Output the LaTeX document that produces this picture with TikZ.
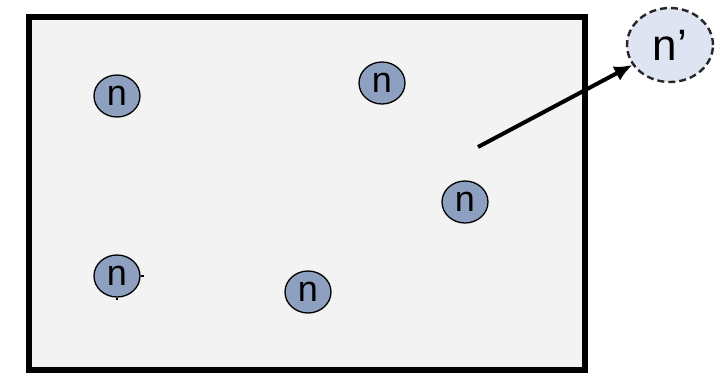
\documentclass[tikz,border=0pt]{standalone}
\usepackage{fontspec}
\setmainfont{Liberation Sans}
\usetikzlibrary{arrows.meta,shapes.geometric}
\definecolor{boxfill}{RGB}{243,243,243}
\definecolor{nfill}{RGB}{142,160,192}
\definecolor{npfill}{RGB}{222,228,241}
\tikzset{
  nnode/.style={ellipse,draw=black,line width=1.3pt,fill=nfill,minimum width=46pt,minimum height=42pt,inner sep=0pt,font=\fontsize{36}{36}\selectfont},
  npnode/.style={ellipse,draw=black!85,dash pattern=on 7pt off 4pt,line width=2.4pt,fill=npfill,minimum width=86pt,minimum height=74pt,inner sep=0pt,font=\fontsize{44}{44}\selectfont},
  movearrow/.style={line width=4pt,-{Latex[length=18pt,width=16pt]}}
}
\begin{document}
\begin{tikzpicture}[x=1pt,y=-1pt]
\useasboundingbox (0,0) rectangle (724,373);
\node[draw=black,line width=5.5pt,fill=boxfill,minimum width=556pt,minimum height=353pt,inner sep=0pt] (box) at (307,193.5) {};
\node[nnode] (n1) at (117,96) {n};
\node[nnode] (n2) at (382,83) {n};
\node[nnode] (n3) at (465,202) {n};
\node[nnode] (n4) at (117,276) {n};
\node[nnode] (n5) at (308,292) {n};
\draw[line width=2pt] (n4.east) -- ++(3,0);
\draw[line width=2pt] (n4.south) -- ++(0,2);
\node[npnode] (np) at (670,45) {n’};
\coordinate (start) at (478,147);
\draw[movearrow] (start) -- (np);
\end{tikzpicture}
\end{document}
